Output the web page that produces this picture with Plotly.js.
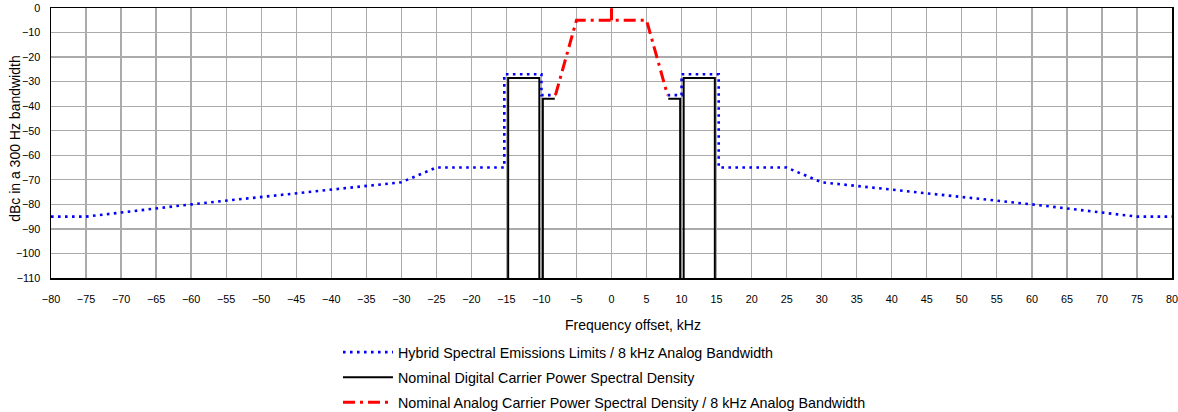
<!DOCTYPE html>
<html>
<head>
<meta charset="utf-8">
<script src="https://cdn.plot.ly/plotly-3.0.1.min.js"></script>
<style>
  html, body { margin: 0; padding: 0; background: #ffffff; }
  #chart { width: 1178px; height: 412px; }
</style>
</head>
<body>
<div id="chart"></div>
<script>
// Hybrid spectral emissions limit (dBc in 300 Hz) vs frequency offset (kHz)
var limitFreq = [-80, -75, -60, -30, -25, -15.3, -15.3, -10, -10, -8, null, 8, 10, 10, 15.3, 15.3, 25, 30, 60, 75, 80];
var limitLevel = [-85, -85, -80, -71, -65, -65, -27, -27, -35.5, -35.5, null, -35.5, -35.5, -27, -27, -65, -65, -71, -80, -85, -85];

// Nominal digital carrier power spectral density
var digitalFreq = [-14.75, -14.75, -10.3, -10.3, null, -9.8, -9.8, -8.1, null, 8.1, 9.8, 9.8, null, 10.3, 10.3, 14.75, 14.75];
var digitalLevel = [-110, -28.5, -28.5, -110, null, -110, -37, -37, null, -37, -37, -110, null, -110, -28.5, -28.5, -110];

// Nominal analog carrier power spectral density
var analogFreq = [-8, -5, 5, 8, null, 0, 0];
var analogLevel = [-35.5, -5, -5, -35.5, null, -5, 0];

var seriesNames = [
  'Hybrid Spectral Emissions Limits / 8 kHz Analog Bandwidth',
  'Nominal Digital Carrier Power Spectral Density',
  'Nominal Analog Carrier Power Spectral Density / 8 kHz Analog Bandwidth'
];

var xTitle = 'Frequency offset, kHz';
var yTitle = 'dBc in a 300 Hz bandwidth';

var xTickVals = [];
for (var v = -80; v <= 80; v += 5) xTickVals.push(v);
var yTickVals = [];
for (var w = -110; w <= 0; w += 10) yTickVals.push(w);

var FONT = 'Liberation Sans, Arial, sans-serif';

var traces = [
  {
    x: limitFreq, y: limitLevel, name: seriesNames[0], type: 'scatter', mode: 'lines',
    line: { color: '#0000ff', width: 2.6, dash: '2.6px,4.4px' },
    legendgroup: 'a', connectgaps: false, hoverinfo: 'x+y'
  },
  {
    x: digitalFreq, y: digitalLevel, name: seriesNames[1], type: 'scatter', mode: 'lines',
    line: { color: '#000000', width: 2 },
    legendgroup: 'b', connectgaps: false, hoverinfo: 'x+y'
  },
  {
    x: analogFreq, y: analogLevel, name: seriesNames[2], type: 'scatter', mode: 'lines',
    line: { color: '#ff0000', width: 3, dash: '12px,5px,3px,5px' },
    legendgroup: 'c', connectgaps: false, hoverinfo: 'x+y'
  }
];

var layout = {
  width: 1178, height: 412,
  margin: { l: 51, r: 6, t: 8, b: 134, autoexpand: false },
  paper_bgcolor: '#ffffff', plot_bgcolor: '#ffffff',
  font: { family: FONT, color: '#000000', size: 11 },
  showlegend: true,
  legend: {
    x: 0.256, xanchor: 'left', y: -0.216, yanchor: 'top',
    orientation: 'v', font: { family: FONT, size: 14.3, color: '#000000' },
    tracegroupgap: 3.5, itemwidth: 50, bgcolor: 'rgba(0,0,0,0)'
  },
  xaxis: {
    range: [-80, 80], tickmode: 'array', tickvals: xTickVals,
    ticks: '', showgrid: true, gridcolor: '#ababab', gridwidth: 1.3,
    zeroline: false, showline: true, linecolor: '#000000', linewidth: 1.5, mirror: true,
    tickfont: { family: FONT, size: 10.8, color: '#000000' }, ticklabelstandoff: 11,
    ticklabeloverflow: 'allow', automargin: false,
    fixedrange: true
  },
  yaxis: {
    range: [-110, 0], tickmode: 'array', tickvals: yTickVals,
    ticks: '', showgrid: true, gridcolor: '#ababab', gridwidth: 1.3,
    zeroline: false, showline: true, linecolor: '#000000', linewidth: 1.5, mirror: true,
    tickfont: { family: FONT, size: 10.8, color: '#000000' }, ticklabelstandoff: 7,
    ticklabeloverflow: 'allow', automargin: false,
    fixedrange: true
  },
  annotations: [
    {
      text: xTitle, xref: 'paper', yref: 'paper',
      x: 0.519, y: -0.174, xanchor: 'center', yanchor: 'middle', showarrow: false,
      font: { family: FONT, size: 14, color: '#000000' }
    },
    {
      text: yTitle, xref: 'paper', yref: 'paper', textangle: -90,
      x: -0.0317, y: 0.517, xanchor: 'center', yanchor: 'middle', showarrow: false,
      font: { family: FONT, size: 14, color: '#000000' }
    }
  ]
};

Plotly.newPlot('chart', traces, layout, { displayModeBar: false, staticPlot: true });
</script>
</body>
</html>
